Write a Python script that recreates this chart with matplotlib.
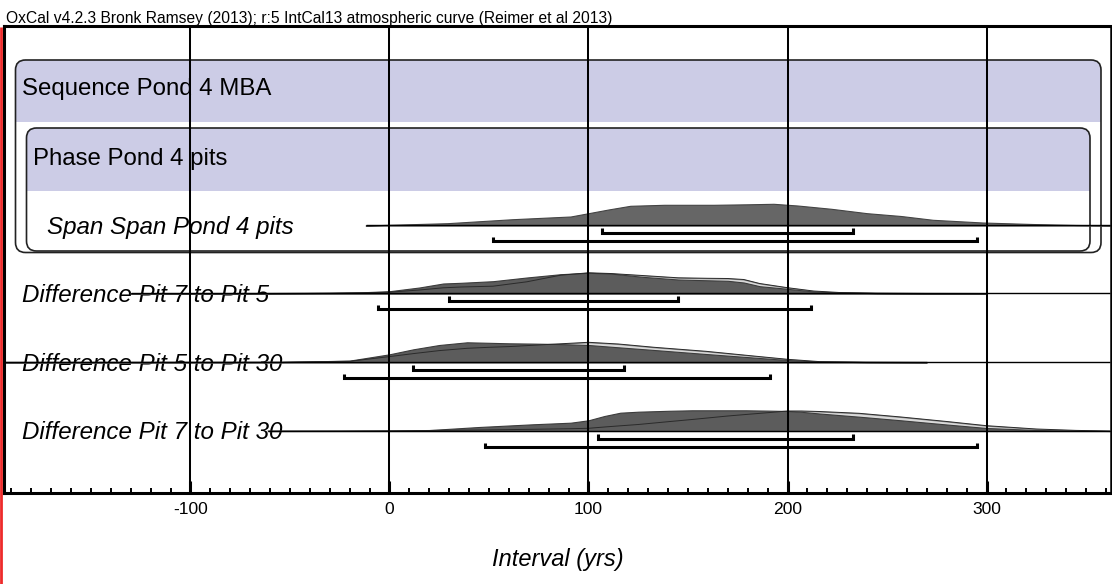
import matplotlib
matplotlib.use("Agg")
import matplotlib.pyplot as plt
from matplotlib.patches import FancyBboxPatch, Rectangle
from matplotlib.ticker import MultipleLocator

plt.rcParams['font.family'] = ['Liberation Sans', 'DejaVu Sans']
plt.rcParams['axes.unicode_minus'] = False

# interval (yrs) and relative probability
span_x = [-12, 0, 29, 62, 91, 100, 110, 121, 138, 163, 180, 193, 205, 222, 240, 257, 273, 298, 323, 345, 362]
span_post = [0, 0.7, 2.3, 6.3, 9, 12.3, 16, 19.7, 20.7, 20.7, 21.2, 21.7, 20, 16.7, 12.3, 9.5, 5.7, 3, 1.5, 0.5, 0.2]

d75_x = [-130, -60, -30, -14, 0, 15, 27, 36, 52, 69, 86, 100, 111, 127, 145, 160, 170, 178, 186, 200, 213, 226, 245, 270, 300]
d75_post = [0, 0.2, 0.6, 1.2, 2.3, 6, 10, 10.7, 12.3, 16, 19.3, 20.7, 20, 16.7, 14, 13.2, 12.7, 11, 7.3, 4.7, 2, 1, 0.4, 0.1, 0]
d75_like = [0, 0.1, 0.4, 0.7, 1.3, 3.5, 5.7, 6.5, 7.3, 11.7, 18.3, 20.7, 20, 18, 15.7, 15.2, 15, 14, 10, 5.8, 2.5, 1, 0.4, 0.1, 0]

d530_x = [-193, -54, -20, 0, 12, 25, 39, 50, 60, 72, 84, 100, 115, 133, 159, 186, 200, 216, 240, 270]
d530_post = [0, 0.3, 1.7, 8, 13, 17.3, 20, 19.5, 19, 18.7, 18.3, 17.3, 15, 12.3, 8.3, 4.3, 2.3, 0.7, 0.2, 0]
d530_like = [0, 0.2, 1, 5.7, 8.7, 11.7, 14, 15, 15.7, 17, 18.3, 20, 18.3, 15, 11, 5.7, 3, 0.7, 0.2, 0]

d730_x = [-61, -25, 0, 18, 45, 72, 91, 100, 108, 116, 125, 140, 152, 170, 179, 190, 200, 207, 216, 236, 257, 280, 300, 325, 345, 362]
d730_post = [0, 0.1, 0.3, 0.7, 4, 6.7, 8.3, 10.7, 15, 18.3, 19.3, 20.2, 20.7, 20.7, 20.7, 20.4, 20, 19.2, 17.5, 14.3, 10.7, 6.5, 3, 1, 0.3, 0]
d730_like = [0, 0.05, 0.2, 0.5, 1, 1.7, 2.3, 2.7, 4, 5.2, 6.5, 9.3, 11.5, 15, 16.5, 18.3, 20, 20, 19.5, 17.7, 14, 9.5, 5.3, 2, 0.6, 0]

# 68.2% and 95.4% ranges
span_ranges = [(107, 233), (52, 295)]
d75_ranges = [(30, 145), (-6, 212)]
d530_ranges = [(12, 118), (-23, 191)]
d730_ranges = [(105, 233), (48, 295)]

labels = ["Span Span Pond 4 pits", "Difference Pit 7 to Pit 5",
          "Difference Pit 5 to Pit 30", "Difference Pit 7 to Pit 30"]

W, H = 1112, 584
fig = plt.figure(figsize=(W / 100, H / 100), dpi=100)

# pixel overlay for boxes and labels
bg = fig.add_axes([0, 0, 1, 1])
bg.set_xlim(0, W)
bg.set_ylim(H, 0)
bg.axis('off')

bg.plot([1.3, 1.3], [27, H], color='#ee2a2a', lw=2.0, solid_capstyle='butt')


def group_box(x0, x1, y0, y1, yh, text, tx, ty):
    head = FancyBboxPatch((x0, y0), x1 - x0, y1 - y0, boxstyle='round,pad=0,rounding_size=10',
                          fc='#ccccE6', ec='none', zorder=1)
    bg.add_patch(head)
    head.set_clip_path(Rectangle((x0, y0), x1 - x0, yh - y0, transform=bg.transData))
    bg.add_patch(FancyBboxPatch((x0, y0), x1 - x0, y1 - y0, boxstyle='round,pad=0,rounding_size=10',
                                fc='none', ec='#222222', lw=1.2, zorder=2))
    bg.text(tx, ty, text, fontsize=17.3, va='baseline', zorder=3)


group_box(15.5, 1101, 60, 252.5, 122, "Sequence Pond 4 MBA", 21.5, 95.5)
group_box(26.5, 1090, 128, 251, 191, "Phase Pond 4 pits", 33, 165.5)

fig.text(5.5 / W, 1 - 23 / H, "OxCal v4.2.3 Bronk Ramsey (2013); r:5 IntCal13 atmospheric curve (Reimer et al 2013)",
         fontsize=11.25, va='baseline')

# main axes, y in pixel rows
ax = fig.add_axes([4.2 / W, 1 - 493.3 / H, (1110.7 - 4.2) / W, (493.3 - 26) / H])
ax.set_facecolor('none')
ax.set_xlim(-193.6, 362.4)
ax.set_ylim(493.3, 26)
ax.set_axisbelow(False)

bases = [225.5, 293.5, 362.3, 431]
rows = [(span_x, span_post, None, span_ranges),
        (d75_x, d75_post, d75_like, d75_ranges),
        (d530_x, d530_post, d530_like, d530_ranges),
        (d730_x, d730_post, d730_like, d730_ranges)]
lab_x = [47, 21.5, 21.5, 21.5]

x_end = 362
for (x, post, like, rng), base, lab, lx in zip(rows, bases, labels, lab_x):
    bg.text(lx, base + 8.3, lab, fontsize=17.4, style='italic', va='baseline', zorder=3)
    ax.hlines(base, x[0], x_end, color='black', lw=1.0, zorder=2.1)
    if like is not None:
        ax.fill_between(x, base, [base - v for v in like], fc='#d9d9d9', ec='#8c8c8c', lw=0.8, zorder=1)
        ax.fill_between(x, base, [base - v for v in post], fc='#5c5c5c', ec='#3c3c3c', lw=0.8, zorder=1.1)
        ax.plot(x, [base - v for v in like], color='#2a2a2a', lw=0.7, zorder=1.2)
    else:
        ax.fill_between(x, base, [base - v for v in post], fc='#666666', ec='#444444', lw=0.8, zorder=1.1)
    for (a, b), off in zip(rng, [7.5, 16]):
        y = base + off
        ax.plot([a, a, b, b], [y - 4.5, y, y, y - 4.5], color='black', lw=2.2,
                solid_joinstyle='miter', solid_capstyle='butt', zorder=2)

ax.xaxis.set_major_locator(MultipleLocator(100))
ax.xaxis.set_minor_locator(MultipleLocator(10))
ax.set_yticks([])
ax.grid(axis='x', which='major', color='black', lw=1.45)
ax.tick_params(axis='x', which='major', direction='in', length=8.6, width=2.2, pad=6.5, labelsize=12.6)
ax.tick_params(axis='x', which='minor', direction='in', length=3.6, width=1.4)
for side in ['top', 'bottom', 'left']:
    ax.spines[side].set_linewidth(2.2)
ax.spines['right'].set_linewidth(1.8)
ax.set_xlabel("Interval (yrs)", fontsize=17, style='italic', labelpad=22)

fig.savefig("out.png", dpi=100)
